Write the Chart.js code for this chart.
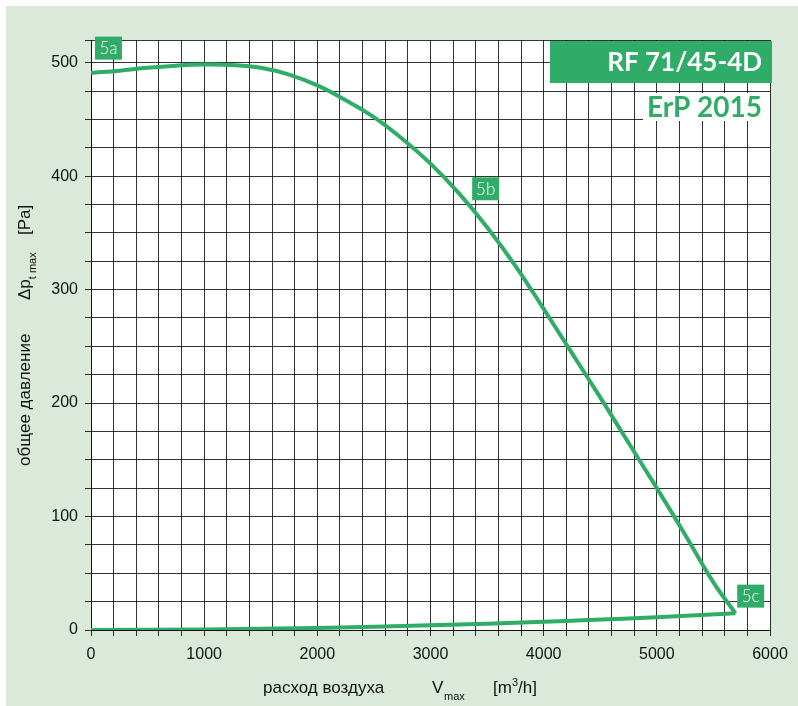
<!DOCTYPE html>
<html><head><meta charset="utf-8">
<script src="https://cdn.jsdelivr.net/npm/chart.js@4.4.0/dist/chart.umd.min.js"></script>
<style>html,body{margin:0;padding:0;background:#fff;}#wrap{width:798px;height:706px;position:relative;}</style>
</head><body><div id="wrap"><canvas id="c" width="798" height="706"></canvas></div>
<script>
// Fan curve (total pressure vs air flow)
const fanFlow = [0, 250, 500, 750, 1000, 1250, 1500, 1750, 2000, 2250, 2500, 2750, 3000, 3250, 3500, 3750, 4000, 4250, 4500, 4750, 5000, 5250, 5500, 5695];
const fanPressure = [491, 493, 495.5, 497.3, 498.3, 497.9, 495.5, 489.5, 480, 467, 452, 433, 411, 385, 355, 321, 283, 244, 205, 165, 125, 84, 42, 14.7];
// System line back to origin
const sysFlow = [0, 1000, 2000, 3000, 4000, 4400, 5000, 5695];
const sysPressure = [0, 0.5, 1.8, 4.1, 7.3, 8.8, 11.3, 14.7];
const xTickLabels = [0, 1000, 2000, 3000, 4000, 5000, 6000];
const yTickLabels = [0, 100, 200, 300, 400, 500];
const pointLabels = ["5a", "5b", "5c"];
const pointLabelAnchors = [[35, 523], [3368, 399], [5710, 40]];
const modelName = "RF 71/45-4D";
const erpText = "ErP 2015";

const GREEN = '#2fad68';
const fanData = fanFlow.map((x, i) => ({x, y: fanPressure[i]}));
const sysData = sysFlow.map((x, i) => ({x, y: sysPressure[i]}));

const decor = {
  id: 'decor',
  beforeDraw(chart) {
    const ctx = chart.ctx, a = chart.chartArea;
    ctx.save();
    ctx.fillStyle = '#fff';
    ctx.fillRect(0, 0, chart.width, chart.height);
    ctx.fillStyle = '#dbe9da';
    ctx.fillRect(6, 6, chart.width - 6, chart.height - 6);
    ctx.fillStyle = '#fff';
    ctx.fillRect(a.left, a.top, a.right - a.left, a.bottom - a.top);
    ctx.restore();
  },
  afterDraw(chart) {
    const ctx = chart.ctx, a = chart.chartArea;
    const xs = chart.scales.x, ys = chart.scales.y;
    ctx.save();
    // Title box
    ctx.fillStyle = GREEN;
    ctx.fillRect(a.right - 220, a.top + 1, 222, 42);
    ctx.fillStyle = '#fff';
    ctx.font = 'bold 26px Lato';
    ctx.textAlign = 'right';
    ctx.textBaseline = 'middle';
    ctx.fillText(modelName, a.right - 8, a.top + 23);
    // ErP box
    ctx.fillStyle = '#fff';
    ctx.fillRect(a.right - 127, a.top + 53, 127, 28);
    ctx.fillStyle = GREEN;
    ctx.font = 'bold 28px Lato';
    ctx.fillText(erpText, a.right - 8, a.top + 68);
    // Point labels
    ctx.font = '300 17px Lato';
    ctx.textAlign = 'center';
    pointLabels.forEach((t, i) => {
      const px = xs.getPixelForValue(pointLabelAnchors[i][0]);
      const py = ys.getPixelForValue(pointLabelAnchors[i][1]);
      ctx.fillStyle = GREEN;
      ctx.fillRect(px, py, 27, 23);
      ctx.fillStyle = '#fff';
      ctx.fillText(t, px + 13.5, py + 12);
    });
    // Axis titles
    const F = '17px "Liberation Sans"', S = '11px "Liberation Sans"';
    ctx.fillStyle = '#111';
    ctx.textAlign = 'left';
    ctx.textBaseline = 'middle';
    ctx.font = F;
    ctx.fillText('расход воздуха', 263, 688);
    ctx.fillText('V', 432, 688);
    ctx.font = S;
    ctx.fillText('max', 444, 697);
    ctx.font = F;
    ctx.fillText('[m', 493, 688);
    let w = ctx.measureText('[m').width;
    ctx.font = S;
    ctx.fillText('3', 493 + w, 683);
    let w2 = ctx.measureText('3').width;
    ctx.font = F;
    ctx.fillText('/h]', 493 + w + w2, 688);
    // Y title rotated
    ctx.translate(25, 466);
    ctx.rotate(-Math.PI / 2);
    ctx.fillText('общее давление', 0, 0);
    ctx.fillText('Δp', 166, 0);
    const dw = ctx.measureText('Δp').width;
    ctx.font = S;
    ctx.fillText('t max', 166 + dw, 8);
    ctx.font = F;
    ctx.fillText('[Pa]', 231, 0);
    ctx.restore();
  }
};

new Chart(document.getElementById('c'), {
  type: 'scatter',
  data: {
    datasets: [
      {data: fanData, showLine: true, borderColor: GREEN, borderWidth: 4, pointRadius: 0, tension: 0.4},
      {data: sysData, showLine: true, borderColor: GREEN, borderWidth: 4, pointRadius: 0, tension: 0.4}
    ]
  },
  options: {
    responsive: false,
    devicePixelRatio: 1,
    animation: false,
    layout: {padding: {left: 0, right: 28, top: 40, bottom: 0}},
    plugins: {legend: {display: false}, tooltip: {enabled: false}},
    scales: {
      x: {
        type: 'linear', min: 0, max: 6000,
        afterFit(s) { s.height = 76; },
        border: {color: '#111', width: 1},
        grid: {color: 'rgba(0,0,0,0.8)', lineWidth: 1, tickLength: 6},
        ticks: {
          stepSize: 200, autoSkip: false, maxRotation: 0, padding: 9,
          color: '#111', font: {family: 'Liberation Sans', size: 16},
          callback: v => xTickLabels.includes(v) ? String(v) : ''
        }
      },
      y: {
        type: 'linear', min: 0, max: 520,
        afterFit(s) { s.width = 91; },
        border: {color: '#111', width: 1},
        grid: {color: 'rgba(0,0,0,0.8)', lineWidth: 1, tickLength: 6},
        ticks: {
          stepSize: 25, autoSkip: false, padding: 7,
          color: '#111', font: {family: 'Liberation Sans', size: 16},
          callback: v => yTickLabels.includes(v) ? String(v) : ''
        }
      }
    }
  },
  plugins: [decor]
});
</script>
</body></html>
